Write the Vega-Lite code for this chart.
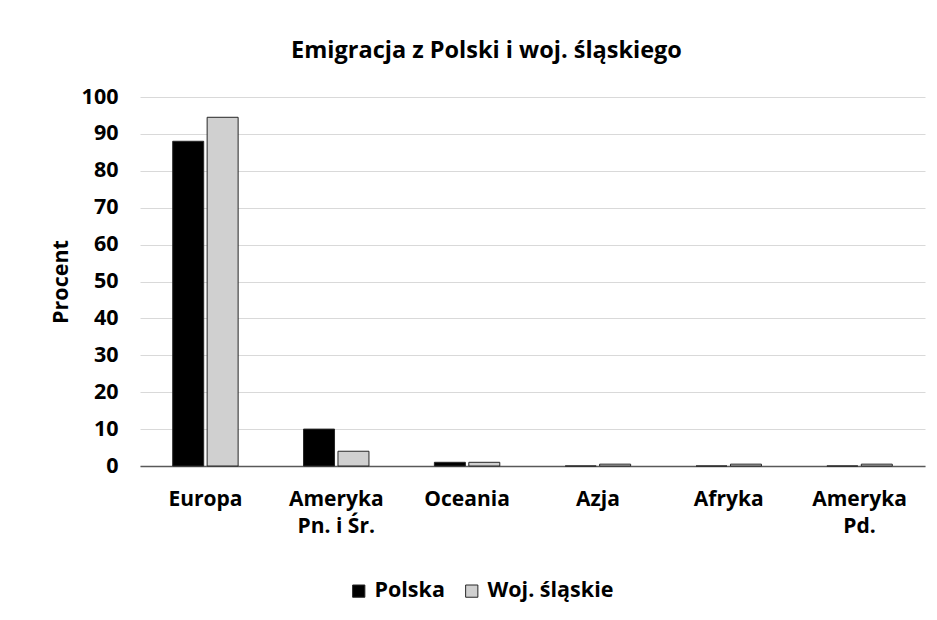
{
  "$schema": "https://vega.github.io/schema/vega-lite/v6.json",
  "autosize": {"type": "none"},
  "width": 785,
  "height": 369,
  "padding": {"left": 140, "top": 97, "right": 12, "bottom": 154},
  "background": "white",
  "title": {
    "text": "Emigracja z Polski i woj. śląskiego",
    "font": "Open Sans",
    "fontSize": 23.5,
    "fontWeight": "bold",
    "color": "#000000",
    "anchor": "middle",
    "dx": -46,
    "offset": 24
  },
  "data": {
    "values": [
      {"region": "Europa", "seria": "Polska", "procent": 88},
      {"region": "Europa", "seria": "Woj. śląskie", "procent": 94.5},
      {"region": "Ameryka Pn. i Śr.", "seria": "Polska", "procent": 10},
      {"region": "Ameryka Pn. i Śr.", "seria": "Woj. śląskie", "procent": 4},
      {"region": "Oceania", "seria": "Polska", "procent": 1},
      {"region": "Oceania", "seria": "Woj. śląskie", "procent": 1},
      {"region": "Azja", "seria": "Polska", "procent": 0},
      {"region": "Azja", "seria": "Woj. śląskie", "procent": 0.5},
      {"region": "Afryka", "seria": "Polska", "procent": 0},
      {"region": "Afryka", "seria": "Woj. śląskie", "procent": 0.5},
      {"region": "Ameryka Pd.", "seria": "Polska", "procent": 0},
      {"region": "Ameryka Pd.", "seria": "Woj. śląskie", "procent": 0.5}
    ]
  },
  "mark": {"type": "bar", "stroke": "#262626", "strokeWidth": 1},
  "encoding": {
    "x": {
      "field": "region",
      "type": "nominal",
      "sort": null,
      "scale": {"paddingInner": 0.5, "paddingOuter": 0.25},
      "axis": {
        "title": null,
        "labelAngle": 0,
        "labelFont": "Open Sans",
        "labelFontSize": 21,
        "labelFontWeight": "bold",
        "labelColor": "#000000",
        "labelPadding": 22,
        "labelLineHeight": 27,
        "labelBaseline": "top",
        "labelExpr": "split(replace(datum.label, 'Ameryka ', 'Ameryka|'), '|')",
        "ticks": false,
        "domainColor": "#595959",
        "domainWidth": 1.5
      }
    },
    "xOffset": {
      "field": "seria",
      "type": "nominal",
      "scale": {"paddingInner": 0.1}
    },
    "y": {
      "field": "procent",
      "type": "quantitative",
      "scale": {"domain": [0, 100]},
      "axis": {
        "title": "Procent",
        "titleFont": "Open Sans",
        "titleFontSize": 21.5,
        "titleFontWeight": "bold",
        "titleColor": "#000000",
        "titlePadding": 9,
        "values": [0, 10, 20, 30, 40, 50, 60, 70, 80, 90, 100],
        "labelFont": "Open Sans",
        "labelFontSize": 21.5,
        "labelFontWeight": "bold",
        "labelColor": "#000000",
        "labelPadding": 22,
        "ticks": false,
        "domain": false,
        "grid": true,
        "gridColor": "#d9d9d9",
        "gridWidth": 1
      }
    },
    "color": {
      "field": "seria",
      "type": "nominal",
      "scale": {"domain": ["Polska", "Woj. śląskie"], "range": ["#000000", "#d0d0d0"]},
      "legend": {
        "title": null,
        "orient": "none",
        "legendX": 208,
        "legendY": 483,
        "direction": "horizontal",
        "symbolType": "square",
        "symbolSize": 150,
        "symbolStrokeColor": "#262626",
        "symbolStrokeWidth": 1,
        "labelFont": "Open Sans",
        "labelFontSize": 21.5,
        "labelFontWeight": "bold",
        "labelColor": "#000000",
        "columnPadding": 16,
        "labelOffset": 5
      }
    }
  },
  "config": {"view": {"stroke": null}}
}
